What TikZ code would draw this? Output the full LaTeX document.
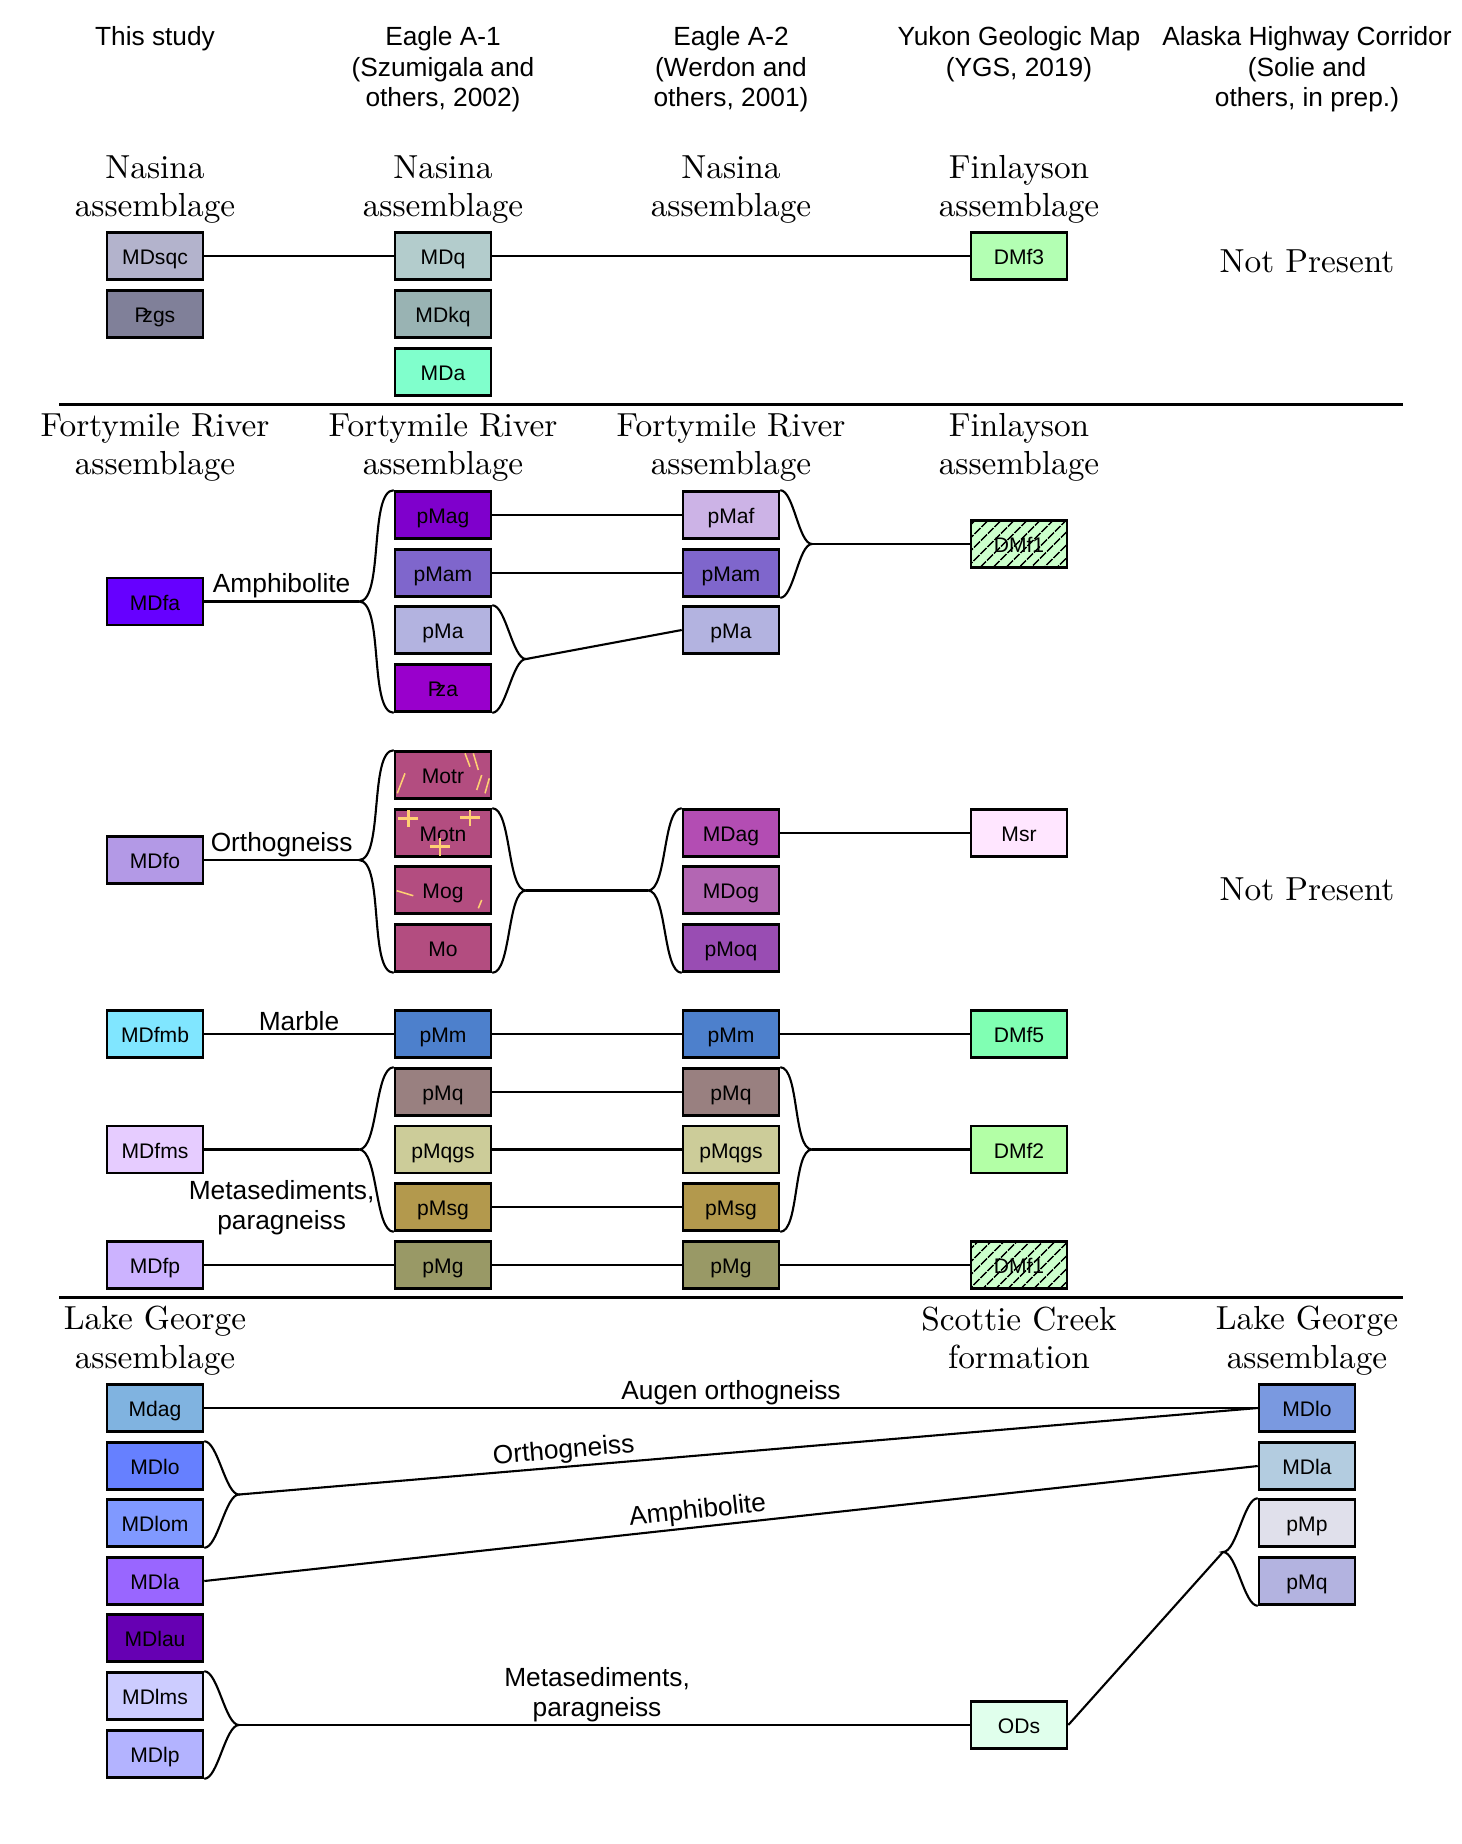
\documentclass[tikz,border=0pt]{standalone}
\usepackage{fontspec}
\newfontfamily\arialfont{Liberation Sans}
\newfontfamily\lmten{lmroman10-regular.otf}
\usetikzlibrary{patterns.meta}
\newcommand{\pzsym}{P\kern-0.3em z}

\definecolor{cMDsqc}{RGB}{179,179,204}
\definecolor{cPzgs}{RGB}{128,128,153}
\definecolor{cMDq}{RGB}{179,204,204}
\definecolor{cMDkq}{RGB}{153,179,179}
\definecolor{cMDa}{RGB}{128,255,204}
\definecolor{cDMfthree}{RGB}{179,255,179}
\definecolor{cMDfa}{RGB}{102,0,255}
\definecolor{cpMag}{RGB}{127,0,204}
\definecolor{cpMam}{RGB}{127,102,204}
\definecolor{cpMa}{RGB}{179,179,224}
\definecolor{cPza}{RGB}{153,0,204}
\definecolor{cpMaf}{RGB}{204,179,230}
\definecolor{cDMfone}{RGB}{204,255,204}
\definecolor{cMDfo}{RGB}{179,153,230}
\definecolor{cMo}{RGB}{179,77,128}
\definecolor{cMDag}{RGB}{179,77,179}
\definecolor{cMDog}{RGB}{179,102,179}
\definecolor{cpMoq}{RGB}{153,77,179}
\definecolor{cMsr}{RGB}{255,230,255}
\definecolor{cMDfmb}{RGB}{128,230,255}
\definecolor{cpMm}{RGB}{77,128,204}
\definecolor{cDMffive}{RGB}{128,255,179}
\definecolor{cMDfms}{RGB}{230,204,255}
\definecolor{cpMq}{RGB}{153,128,128}
\definecolor{cpMqgs}{RGB}{204,204,153}
\definecolor{cpMsg}{RGB}{179,153,77}
\definecolor{cDMftwo}{RGB}{179,255,166}
\definecolor{cMDfp}{RGB}{204,179,255}
\definecolor{cpMg}{RGB}{153,153,102}
\definecolor{cMdag}{RGB}{128,179,224}
\definecolor{cMDlo}{RGB}{102,128,255}
\definecolor{cMDlom}{RGB}{128,153,255}
\definecolor{cMDla}{RGB}{153,102,255}
\definecolor{cMDlau}{RGB}{102,0,179}
\definecolor{cMDlms}{RGB}{204,204,255}
\definecolor{cMDlp}{RGB}{179,179,255}
\definecolor{cMDloR}{RGB}{122,153,224}
\definecolor{cMDlaR}{RGB}{179,204,224}
\definecolor{cpMp}{RGB}{224,224,235}
\definecolor{cpMqR}{RGB}{179,179,224}
\definecolor{cODs}{RGB}{224,255,236}
\definecolor{ornyel}{RGB}{255,208,115}

\begin{document}
\begin{tikzpicture}[x=0.025cm, y=-0.025cm,
    unit/.style={draw, line width=1.8pt, minimum width=2.4cm, minimum height=1.175cm, inner sep=0pt, text height=12.6pt, text depth=0pt, font=\arialfont\fontsize{15}{18}\selectfont},
    hatched/.style={unit, preaction={fill=#1}, pattern={Lines[angle=45,distance=6.5pt,line width=1.2pt]}},
    link/.style={line width=1.5pt, looseness=0.55},
    rule/.style={line width=1.8pt},
    hdr/.style={align=center, font=\lmten\fontsize{23.7}{27.5}\selectfont},
    src/.style={align=center, font=\arialfont\fontsize{18.7}{21.7}\selectfont},
    lbl/.style={font=\arialfont\fontsize{18.7}{21}\selectfont, inner sep=1.5pt},
    orn/.style={draw=ornyel, line width=1.1pt},
    ornplus/.style={draw=ornyel, line width=2pt}]
\useasboundingbox (0,0) rectangle (1462,1844);

% sources
\node[src] (hst) at (155,38.5) {This study};
\node[src] (hea) at (443,69.5) {Eagle A-1\\(Szumigala and\\others, 2002)};
\node[src] (heb) at (731,69.5) {Eagle A-2\\(Werdon and\\others, 2001)};
\node[src] (hyg) at (1019,54) {Yukon Geologic Map\\(YGS, 2019)};
\node[src] (hah) at (1307,69.5) {Alaska Highway Corridor\\(Solie and\\others, in prep.)};

% Nasina
\node[hdr] (asst1) at (155,189.5) {Nasina\\assemblage};
\node[hdr] (asea1) at (443,189.5) {Nasina\\assemblage};
\node[hdr] (aseb1) at (731,189.5) {Nasina\\assemblage};
\node[hdr] (asyg1) at (1019,189.5) {Finlayson\\assemblage};
\node[hdr] (npah1) at (1307,261) {Not Present};

\node[unit, fill=cMDsqc] (stMDsqc) at (155,256) {MDsqc};
\node[unit, fill=cPzgs] (stPzgs) at (155,314) {\pzsym gs};
\node[unit, fill=cMDq] (eaMDq) at (443,256) {MDq};
\node[unit, fill=cMDkq] (eaMDkq) at (443,314) {MDkq};
\node[unit, fill=cMDa] (eaMDa) at (443,372) {MDa};
\node[unit, fill=cDMfthree] (ygDMfthree) at (1019,256) {DMf3};

\draw[link] (stMDsqc.east) -- (eaMDq.west);
\draw[link] (eaMDq.east) -- (ygDMfthree.west);

\draw[rule] (59,404.6) -- (1403,404.6);

% Fortymile River
\node[hdr] (asst2) at (155,447.5) {Fortymile River\\assemblage};
\node[hdr] (asea2) at (443,447.5) {Fortymile River\\assemblage};
\node[hdr] (aseb2) at (731,447.5) {Fortymile River\\assemblage};
\node[hdr] (asyg2) at (1019,447.5) {Finlayson\\assemblage};

% amphibolite
\node[unit, fill=cMDfa] (stMDfa) at (155,601.5) {MDfa};
\node[unit, fill=cpMag] (eapMag) at (443,515) {pMag};
\node[unit, fill=cpMam] (eapMam) at (443,573) {pMam};
\node[unit, fill=cpMa] (eapMa) at (443,630) {pMa};
\node[unit, fill=cPza] (eaPza) at (443,688) {\pzsym a};
\node[unit, fill=cpMaf] (ebpMaf) at (731,515) {pMaf};
\node[unit, fill=cpMam] (ebpMam) at (731,573) {pMam};
\node[unit, fill=cpMa] (ebpMa) at (731,630) {pMa};
\node[hatched=cDMfone] (ygDMfone) at (1019,544) {DMf1};

\coordinate (tA) at (359,601.5);
\coordinate (tB) at (526,659);
\coordinate (tC) at (812,544);
\draw[link] (stMDfa.east) -- node[lbl, above]{Amphibolite} (tA);
\draw[link] (eapMag.north west) to[out=180,in=0] (tA) to[out=0,in=180] (eaPza.south west);
\draw[link] (eapMag.east) -- (ebpMaf.west);
\draw[link] (eapMam.east) -- (ebpMam.west);
\draw[link] (eapMa.north east) to[out=0,in=180] (tB) to[out=180,in=0] (eaPza.south east);
\draw[link] (tB) -- (ebpMa.west);
\draw[link] (ebpMaf.north east) to[out=0,in=180] (tC) to[out=180,in=0] (ebpMam.south east);
\draw[link] (tC) -- (ygDMfone.west);

% orthogneiss
\node[unit, fill=cMDfo] (stMDfo) at (155,860) {MDfo};
\node[unit, fill=cMo] (eaMotr) at (443,775) {Motr};
\node[unit, fill=cMo] (eaMotn) at (443,833) {Motn};
\node[unit, fill=cMo] (eaMog) at (443,890) {Mog};
\node[unit, fill=cMo] (eaMo) at (443,948) {Mo};
\node[unit, fill=cMDag] (ebMDag) at (731,833) {MDag};
\node[unit, fill=cMDog] (ebMDog) at (731,890) {MDog};
\node[unit, fill=cpMoq] (ebpMoq) at (731,948) {pMoq};
\node[unit, fill=cMsr] (ygMsr) at (1019,833) {Msr};
\node[hdr] (npah2) at (1307,889) {Not Present};

\begin{scope}[shift={(eaMotr.center)}]
  \clip (-47,-22.5) rectangle (47,22.5);
  \draw[orn] (-45.7,18.3) -- (-38,-1.7);
  \draw[orn] (22,-21.7) -- (27,-8.3);
  \draw[orn] (30.3,-21.7) -- (35.3,-5);
  \draw[orn] (33.7,15) -- (38.7,0);
  \draw[orn] (42,18.3) -- (46.3,3.3);
\end{scope}
\begin{scope}[shift={(eaMotn.center)}]
  \clip (-47,-22.5) rectangle (47,22.5);
  \foreach \px/\py in {-34.7/-14.7, 27/-15.7, -3/13.7}
    \draw[ornplus] (\px-10,\py) -- (\px+10,\py) (\px,\py-9) -- (\px,\py+9);
\end{scope}
\begin{scope}[shift={(eaMog.center)}]
  \clip (-47,-22.5) rectangle (47,22.5);
  \draw[orn] (-46.3,0.7) -- (-29.7,5.7);
  \draw[orn] (35.3,18.3) -- (38.7,10);
\end{scope}

\coordinate (tD) at (359,860);
\coordinate (tE) at (526,890.5);
\coordinate (tF) at (648,890.5);
\draw[link] (stMDfo.east) -- node[lbl, above]{Orthogneiss} (tD);
\draw[link] (eaMotr.north west) to[out=180,in=0] (tD) to[out=0,in=180] (eaMo.south west);
\draw[link] (eaMotn.north east) to[out=0,in=180] (tE) to[out=180,in=0] (eaMo.south east);
\draw[link] (tE) -- (tF);
\draw[link] (ebMDag.north west) to[out=180,in=0] (tF) to[out=0,in=180] (ebpMoq.south west);
\draw[link] (ebMDag.east) -- (ygMsr.west);

% marble, metasediments
\node[unit, fill=cMDfmb] (stMDfmb) at (155,1034) {MDfmb};
\node[unit, fill=cMDfms] (stMDfms) at (155,1149.5) {MDfms};
\node[unit, fill=cMDfp] (stMDfp) at (155,1265) {MDfp};
\node[unit, fill=cpMm] (eapMm) at (443,1034) {pMm};
\node[unit, fill=cpMq] (eapMq) at (443,1092) {pMq};
\node[unit, fill=cpMqgs] (eapMqgs) at (443,1149.5) {pMqgs};
\node[unit, fill=cpMsg] (eapMsg) at (443,1207) {pMsg};
\node[unit, fill=cpMg] (eapMg) at (443,1265) {pMg};
\node[unit, fill=cpMm] (ebpMm) at (731,1034) {pMm};
\node[unit, fill=cpMq] (ebpMq) at (731,1092) {pMq};
\node[unit, fill=cpMqgs] (ebpMqgs) at (731,1149.5) {pMqgs};
\node[unit, fill=cpMsg] (ebpMsg) at (731,1207) {pMsg};
\node[unit, fill=cpMg] (ebpMg) at (731,1265) {pMg};
\node[unit, fill=cDMffive] (ygDMffive) at (1019,1034) {DMf5};
\node[unit, fill=cDMftwo] (ygDMftwo) at (1019,1149.5) {DMf2};
\node[hatched=cDMfone] (ygDMfoneb) at (1019,1265) {DMf1};

\coordinate (tG) at (359,1149.5);
\coordinate (tH) at (812,1149.5);
\draw[link] (stMDfmb.east) -- node[lbl, above]{Marble} (eapMm.west);
\draw[link] (eapMm.east) -- (ebpMm.west);
\draw[link] (ebpMm.east) -- (ygDMffive.west);
\draw[link] (stMDfms.east) -- node[lbl, align=center, yshift=-1.45cm]{Metasediments,\\paragneiss} (tG);
\draw[link] (eapMq.north west) to[out=180,in=0] (tG) to[out=0,in=180] (eapMsg.south west);
\draw[link] (eapMq.east) -- (ebpMq.west);
\draw[link] (eapMqgs.east) -- (ebpMqgs.west);
\draw[link] (eapMsg.east) -- (ebpMsg.west);
\draw[link] (ebpMq.north east) to[out=0,in=180] (tH) to[out=180,in=0] (ebpMsg.south east);
\draw[link] (tH) -- (ygDMftwo.west);
\draw[link] (stMDfp.east) -- (eapMg.west);
\draw[link] (eapMg.east) -- (ebpMg.west);
\draw[link] (ebpMg.east) -- (ygDMfoneb.west);

\draw[rule] (59,1297.4) -- (1403,1297.4);

% Lake George
\node[hdr] (asst3) at (155,1340.5) {Lake George\\assemblage};
\node[hdr] (asyg3) at (1019,1338) {Scottie Creek\\formation};
\node[hdr] (asah3) at (1307,1340.5) {Lake George\\assemblage};

\node[unit, fill=cMdag] (stMdag) at (155,1408) {Mdag};
\node[unit, fill=cMDlo] (stMDlo) at (155,1466) {MDlo};
\node[unit, fill=cMDlom] (stMDlom) at (155,1523) {MDlom};
\node[unit, fill=cMDla] (stMDla) at (155,1581) {MDla};
\node[unit, fill=cMDlau] (stMDlau) at (155,1638) {MDlau};
\node[unit, fill=cMDlms] (stMDlms) at (155,1696) {MDlms};
\node[unit, fill=cMDlp] (stMDlp) at (155,1754) {MDlp};
\node[unit, fill=cODs] (ygODs) at (1019,1725) {ODs};
\node[unit, fill=cMDloR] (ahMDlo) at (1307,1408) {MDlo};
\node[unit, fill=cMDlaR] (ahMDla) at (1307,1466) {MDla};
\node[unit, fill=cpMp] (ahpMp) at (1307,1523) {pMp};
\node[unit, fill=cpMqR] (ahpMq) at (1307,1581) {pMq};

\coordinate (tI) at (239,1494.5);
\coordinate (tJ) at (239,1725);
\coordinate (tK) at (1223,1552);
\draw[link] (stMdag.east) -- node[lbl, above]{Augen orthogneiss} (ahMDlo.west);
\draw[link] (stMDlo.north east) to[out=0,in=180] (tI) to[out=180,in=0] (stMDlom.south east);
\draw[link] (tI) -- node[lbl, sloped, above, pos=0.32]{Orthogneiss} (ahMDlo.west);
\draw[link] (stMDla.east) -- node[lbl, sloped, above, pos=0.47]{Amphibolite} (ahMDla.west);
\draw[link] (stMDlms.north east) to[out=0,in=180] (tJ) to[out=180,in=0] (stMDlp.south east);
\draw[link] (tJ) -- node[lbl, align=center, above, pos=0.49]{Metasediments,\\paragneiss} (ygODs.west);
\draw[link] (ygODs.east) -- (tK);
\draw[link] (ahpMp.north west) to[out=180,in=0] (tK) to[out=0,in=180] (ahpMq.south west);
\end{tikzpicture}
\end{document}
